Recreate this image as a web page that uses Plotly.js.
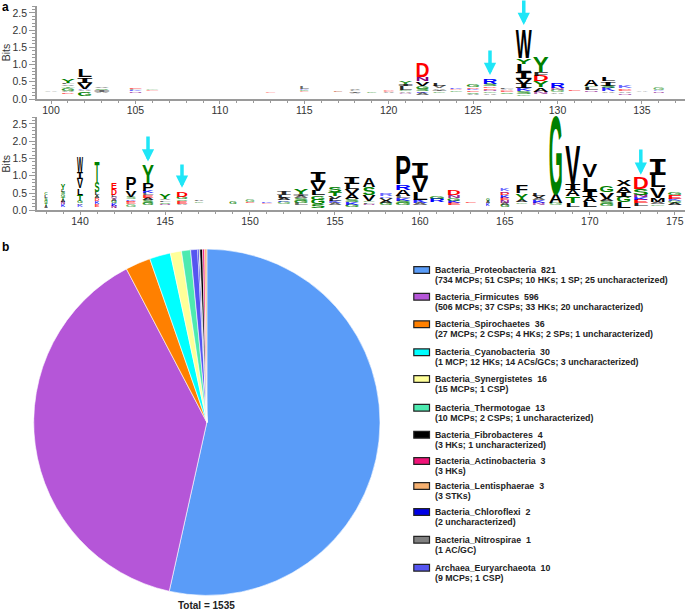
<!DOCTYPE html>
<html>
<head>
<meta charset="utf-8">
<script src="https://cdn.plot.ly/plotly-3.0.1.min.js"></script>
<style>html,body{margin:0;padding:0;background:#fff}#chart{width:685px;height:610px}</style>
</head>
<body>
<div id="chart"></div>
<script>
// ---------- Panel a, upper logo: position, stack base (bits), letters bottom to top, heights (bits), column width (px)
const topPositions = [100,101,102,103,105,106,113,115,116,117,118,119,120,121,122,123,124,125,126,127,128,129,130,131,132,133,134,135,136];
const topBases = [.18,.12,.07,.14,.15,.2,.15,.16,.16,.16,.12,.15,.14,.12,.09,.15,.18,.09,.09,.12,.07,.12,.12,.19,.18,.15,.09,.16,.15];
const topLetters = ["A","DAGTVLY","GAKVIL","AISV","NKLE","EG","E","EGKL","D","GE","AILV","G","AED","NAGLIY","AKSGVND","GIAVL","GDK","ASEKDG","AGNEDSR","SEDAL","GSKIVILYW","NAYDFY","AGNR","E","NLGA","AKSIL","NAEDK","A","NKG"];
const topHeights = [[.02],[.04,.05,.09,.05,.05,.05,.11],[.12,.04,.03,.19,.15,.22],[.04,.06,.05,.05],[.04,.04,.03,.04],[.03,.03],[.03],[.03,.05,.03,.06],[.012],[.015,.015],[.03,.04,.03,.04],[.05],[.04,.02,.03],[.03,.04,.05,.1,.08,.08],[.06,.05,.07,.09,.13,.11,.43],[.04,.04,.05,.06,.07],[.05,.03,.05],[.04,.04,.05,.05,.04,.07],[.05,.05,.05,.05,.05,.07,.16],[.04,.04,.03,.03,.05],[.04,.09,.08,.14,.14,.2,.24,.15,.85],[.06,.13,.17,.17,.1,.44],[.05,.06,.06,.14],[.05],[.05,.08,.04,.17],[.04,.1,.07,.12,.12],[.05,.05,.05,.04,.06],[.015],[.05,.03,.06]];
const topWidths = [15,14,15,15,14,14,11,10,10,10,11,11,12,14,14,14,14,14,15,15,16,16,15,14,15,15,15,13,12];

// ---------- Panel a, lower logo
const lowPositions = [138,139,140,141,142,143,144,145,146,147,149,150,151,152,153,154,155,156,157,158,159,160,161,162,163,164,165,166,167,168,169,170,171,172,173,174,175];
const lowBases = [.03,.06,.06,.08,.03,.08,.11,.12,.11,.19,.15,.17,.15,.15,.11,.03,.11,.06,.11,.11,.11,.12,.2,.11,.18,.09,.06,.16,.13,.13,.06,.06,.09,.03,.09,.09,.11];
const lowLetters = ["ATGSLC","KNATGSLY","KAGTLVIW","EKDALST","NKGAQLDE","GEDKSVP","GSAELKPY","NSLVY","AESGD","GLA","G","EG","EK","GKALI","LGSAIY","SGGLVI","AKLVTS","GKSAVLI","NLGVSA","GAVKR","GSKLARP","AKLVI","RG","EKGND","E","KAG","GANEKDQK","GAYF","NKAVL","GAG","LTAIV","LAILV","GSAVG","LGIAX","LEKNSD","GAMVLI","AGKEG"];
const lowHeights = [[.07,.07,.08,.08,.07,.07],[.08,.07,.07,.08,.08,.07,.06,.2],[.06,.05,.08,.17,.19,.27,.21,.45],[.08,.08,.08,.08,.1,.29,.6],[.07,.07,.07,.06,.06,.06,.17,.19],[.06,.06,.05,.05,.06,.2,.39],[.08,.07,.07,.07,.06,.07,.23,.53],[.04,.05,.05,.05,.13],[.05,.08,.05,.07,.13],[.04,.02,.05],[.08],[.05,.06],[.03,.04],[.06,.05,.07,.08,.1],[.06,.08,.07,.06,.05,.16],[.12,.13,.12,.14,.26,.29],[.06,.06,.08,.08,.11,.14],[.07,.08,.08,.15,.15,.15,.22],[.05,.05,.04,.17,.22,.26],[.07,.07,.08,.05,.06],[.07,.07,.07,.06,.19,.15,.86],[.06,.1,.21,.42,.43],[.11,.07],[.07,.07,.08,.09,.14],[.05],[.08,.07,.09],[.07,.06,.07,.08,.07,.07,.05,.06],[.05,.07,.19,.24],[.06,.07,.06,.07,.07],[.06,.25,2.29],[.12,.2,.17,.18,1.16],[.14,.15,.19,.39,.38],[.07,.07,.07,.19,.18],[.17,.17,.13,.16,.19],[.08,.11,.07,.07,.17,.34],[.05,.06,.12,.32,.36,.44],[.07,.06,.06,.12,.08]];
const lowWidths = [3.5,4.5,6,5,6,11,12,12,12,10,8,10,12,14,15,15,14,15,13,14,16,16,16,14,12,4,10,13,14,14,15,15,15,15,16,16,15];

// ---------- Arrows: position and tip height in bits
const topArrowPositions = [126,128];
const topArrowTips = [.7,2.15];
const topArrowTails = [1.45,2.9];
const lowArrowPositions = [144,146,173];
const lowArrowTips = [1.41,.65,1.03];
const lowArrowTails = [2.18,1.37,1.8];

// ---------- Panel b
const phyla = ["Bacteria_Proteobacteria","Bacteria_Firmicutes","Bacteria_Spirochaetes","Bacteria_Cyanobacteria","Bacteria_Synergistetes","Bacteria_Thermotogae","Bacteria_Fibrobacteres","Bacteria_Actinobacteria","Bacteria_Lentisphaerae","Bacteria_Chloroflexi","Bacteria_Nitrospirae","Archaea_Euryarchaeota"];
const counts = [821,596,36,30,16,13,4,3,3,2,1,10];
const details = ["(734 MCPs; 51 CSPs; 10 HKs; 1 SP; 25 uncharacterized)","(506 MCPs; 37 CSPs; 33 HKs; 20 uncharacterized)","(27 MCPs; 2 CSPs; 4 HKs; 2 SPs; 1 uncharacterized)","(1 MCP; 12 HKs; 14 ACs/GCs; 3 uncharacterized)","(15 MCPs; 1 CSP)","(10 MCPs; 2 CSPs; 1 uncharacterized)","(3 HKs; 1 uncharacterized)","(3 HKs)","(3 STKs)","(2 uncharacterized)","(1 AC/GC)","(9 MCPs; 1 CSP)"];
const phylumColors = ["#5a9cf8","#b556d8","#ff8000","#00ffff","#ffff99","#4deab0","#000000","#f01478","#f5b070","#0000e6","#808080","#5555f0"];
// drawing order around the pie, clockwise from 12 o'clock
const pieOrder = [0,1,2,3,4,5,11,9,10,6,7,8];
const legendRowY = [270,296.7,324.3,352.3,379,407.7,434.7,461,486,512,539.7,567.7];

// ---------- Geometry
const W = 685, H = 610;
const fx = p => p / W, fy = p => 1 - p / H;
const letterGreen = "GSTYC", letterPurple = "NQ", letterBlue = "KRH", letterRed = "DE";
function letterRGB(c){
  if (letterGreen.includes(c)) return "0,128,0";
  if (letterPurple.includes(c)) return "128,0,128";
  if (letterBlue.includes(c)) return "0,0,255";
  if (letterRed.includes(c)) return "255,0,0";
  return "0,0,0";
}
const FS = 20;
function logoTrace(positions, bases, letters, heights, widths, xa, ya){
  const x=[],y=[],t=[],col=[],fam=[],hs=[],ws=[];
  positions.forEach((p,i)=>{
    let b = bases[i];
    heights[i].forEach((h,j)=>{
      const c = letters[i][j];
      x.push(p); y.push(b+h/2); t.push(c); hs.push(h); ws.push(widths[i]);
      const a = h<.035 ? .35 : h<.07 ? .6 : h<.11 ? .85 : 1;
      col.push("rgba("+letterRGB(c)+","+a+")");
      fam.push(c==="I" ? "Liberation Mono" : "Liberation Sans");
      b += h;
    });
  });
  return {type:"scatter",mode:"text",x,y,text:t,xaxis:xa,yaxis:ya,cliponaxis:false,hoverinfo:"skip",showlegend:false,
    textposition:"middle center",textfont:{size:FS,color:col,family:fam,weight:"bold"},customdata:hs,meta:ws};
}
const topTrace = logoTrace(topPositions,topBases,topLetters,topHeights,topWidths,"x","y");
const lowTrace = logoTrace(lowPositions,lowBases,lowLetters,lowHeights,lowWidths,"x2","y2");
const pieTrace = {type:"pie",values:pieOrder.map(i=>counts[i]),labels:pieOrder.map(i=>phyla[i]),sort:false,direction:"clockwise",rotation:0,
  textinfo:"none",hoverinfo:"skip",showlegend:false,marker:{colors:pieOrder.map(i=>phylumColors[i]),line:{color:"#ffffff",width:.6}},
  domain:{x:[fx(33.7),fx(380)],y:[fy(595.5),fy(249)]}};

const axisColor="#9a9a9a", textColor="#333333";
function xAxis(range,anchor){return {domain:[fx(36.7),1],range,anchor,showgrid:false,zeroline:false,showline:true,linecolor:axisColor,linewidth:1.5,
  ticks:"outside",ticklen:3,tickwidth:1,tickcolor:axisColor,dtick:5,tick0:0,ticklabelstandoff:-2,minor:{dtick:1,ticks:"outside",ticklen:2,tickcolor:axisColor,tickwidth:1,showgrid:false},
  tickfont:{family:"Liberation Sans",size:10.5,color:textColor}};}
function yAxis(top,bottom,anchor){return {domain:[fy(bottom),fy(top)],range:[0,2.7],anchor,showgrid:false,zeroline:false,showline:true,linecolor:axisColor,linewidth:1.5,
  ticks:"outside",ticklen:6,tickwidth:1,tickcolor:axisColor,dtick:.5,tick0:0,tickformat:".1f",minor:{dtick:.1,ticks:"outside",ticklen:3,tickcolor:axisColor,tickwidth:1,showgrid:false},
  tickfont:{family:"Liberation Sans",size:10.5,color:textColor},title:{text:"Bits",font:{family:"Liberation Sans",size:10.5,color:textColor},standoff:5}};}

const legendShapes = phyla.map((_,i)=>({type:"rect",xref:"paper",yref:"paper",x0:fx(413.8),x1:fx(429.5),y0:fy(legendRowY[i]+3.4),y1:fy(legendRowY[i]-3.4),fillcolor:phylumColors[i],line:{color:"#222222",width:1.2}}));
const nameFont={family:"Liberation Sans",size:8.8,color:"#222222",weight:"bold"};
const detailFont={family:"Liberation Sans",size:8.8,color:"#222222",weight:"bold"};
const annotations=[];
phyla.forEach((p,i)=>{
  annotations.push({xref:"paper",yref:"paper",x:fx(434),y:fy(legendRowY[i]),xanchor:"left",yanchor:"middle",showarrow:false,borderpad:0,text:p+"\u00a0\u00a0"+counts[i],font:nameFont});
  annotations.push({xref:"paper",yref:"paper",x:fx(434),y:fy(legendRowY[i]+10),xanchor:"left",yanchor:"middle",showarrow:false,borderpad:0,text:details[i],font:detailFont});
});
annotations.push({xref:"paper",yref:"paper",x:fx(206),y:fy(605.5),xanchor:"center",yanchor:"middle",showarrow:false,borderpad:0,text:"Total = "+counts.reduce((a,b)=>a+b,0),font:{family:"Liberation Sans",size:10,color:"#222222",weight:"bold"}});
annotations.push({xref:"paper",yref:"paper",x:fx(1),y:fy(7.2),xanchor:"left",yanchor:"middle",showarrow:false,borderpad:0,text:"a",font:{family:"Liberation Sans",size:12,color:"#000",weight:"bold"}});
annotations.push({xref:"paper",yref:"paper",x:fx(1),y:fy(247),xanchor:"left",yanchor:"middle",showarrow:false,borderpad:0,text:"b",font:{family:"Liberation Sans",size:12,color:"#000",weight:"bold"}});
function addArrows(pos,tips,tails,xr,yr){pos.forEach((p,i)=>annotations.push({xref:xr,yref:yr,axref:xr,ayref:yr,x:p,y:tips[i],ax:p,ay:tails[i],text:"",showarrow:true,arrowhead:2,arrowsize:.7,arrowwidth:3.5,arrowcolor:"#1fe6f7",standoff:0}));}
addArrows(topArrowPositions,topArrowTips,topArrowTails,"x","y");
addArrows(lowArrowPositions,lowArrowTips,lowArrowTails,"x2","y2");

const layout={width:W,height:H,margin:{l:0,r:0,t:0,b:0},paper_bgcolor:"#fff",plot_bgcolor:"rgba(0,0,0,0)",showlegend:false,
  font:{family:"Liberation Sans"},
  xaxis:xAxis([99.15,137.55],"y"),yaxis:yAxis(6,99,"x"),
  xaxis2:xAxis([137.45,175.6],"y2"),yaxis2:yAxis(117,210.3,"x2"),
  shapes:legendShapes,annotations};

// Stretch each logo letter so that its height is its value in bits and its width that of the column
function stretchLetters(gd){
  const panels=[["xy","yaxis"],["x2y2","yaxis2"]];
  panels.forEach(([sub,yname])=>{
    const ya=gd._fullLayout[yname];
    const perBit=ya._length/(ya.range[1]-ya.range[0]);
    const nodes=gd.querySelectorAll(".subplot."+sub+" .textpoint text");
    const tr=sub==="xy"?topTrace:lowTrace;
    nodes.forEach((n,i)=>{
      const h=tr.customdata[i]*perBit, c=tr.text[i], mono=c==="I";
      const cap=(mono?.66:.716)*FS;
      const adv=n.getComputedTextLength();
      const base=parseFloat(n.getAttribute("y")), cx=parseFloat(n.getAttribute("x"));
      const pointY=base-.3*FS;
      const sx=tr.meta[i]*(mono?1.31:1)/adv, sy=h/cap;
      n.setAttribute("transform","translate("+cx+","+(pointY+h/2)+") scale("+sx+","+sy+") translate("+(-cx)+","+(-base)+")");
    });
  });
}
Plotly.newPlot("chart",[pieTrace,topTrace,lowTrace],layout,{staticPlot:true,displayModeBar:false}).then(stretchLetters);
</script>
</body>
</html>
